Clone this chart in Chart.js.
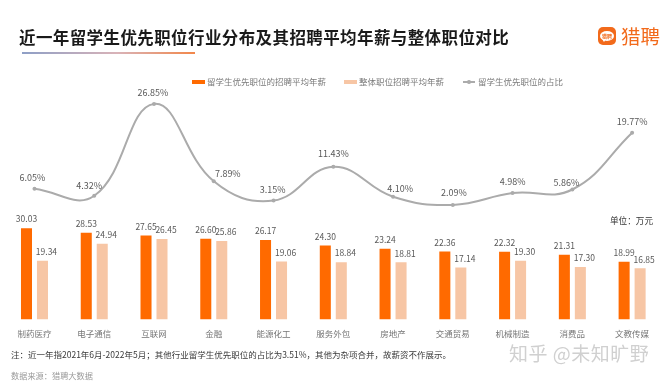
<!DOCTYPE html>
<html>
<head>
<meta charset="utf-8">
<script src="https://cdn.jsdelivr.net/npm/chart.js@4.4.1/dist/chart.umd.min.js"></script>
<style>
html,body{margin:0;padding:0;background:#fff;}
body{width:670px;height:392px;position:relative;overflow:hidden;font-family:"Noto Sans CJK SC","Noto Sans",sans-serif;}
#c{position:absolute;left:0;top:0;}
.abs{position:absolute;white-space:nowrap;}
.title{left:19px;top:27px;font-size:16.5px;font-weight:bold;color:#1a1a1a;line-height:20px;letter-spacing:0.4px;}
.uline{left:22px;top:52px;width:173px;height:2px;background:linear-gradient(to right,#8e9fc6,#d9b3b8 55%,#f2874a);}
.logo-icon{left:598px;top:27px;width:18px;height:18px;border-radius:5px;background:#f26a1b;}
.logo-icon .bub{position:absolute;left:2px;top:3.5px;width:14px;height:10px;border-radius:50%;background:#fff;color:#f26a1b;font-size:5px;line-height:10px;text-align:center;font-weight:bold;}
.logo-icon .tail{position:absolute;left:4px;top:12px;width:0;height:0;border-left:2px solid transparent;border-right:2px solid transparent;border-top:3px solid #fff;}
.logo-txt{left:621px;top:24px;font-size:19.5px;line-height:24px;color:#f26a1b;}
.leg{top:76px;font-size:8.5px;line-height:11px;color:#7a7a7a;}
.sw{position:absolute;top:79.5px;height:4.5px;width:13px;}
.unit{right:17px;top:214px;font-size:8.6px;line-height:12px;color:#333;}
.note{left:11px;top:348px;font-size:8.5px;line-height:12px;color:#3a3a3a;}
.src{left:11px;top:369px;font-size:8.2px;line-height:12px;color:#9a9a9a;}
.wm{left:509px;top:341px;font-size:19px;line-height:24px;color:#d0d0d0;letter-spacing:0.5px;}
</style>
</head>
<body>
<canvas id="c" width="670" height="392"></canvas>
<div class="abs title">近一年留学生优先职位行业分布及其招聘平均年薪与整体职位对比</div>
<div class="abs uline"></div>
<div class="abs logo-icon"><div class="bub">猎聘</div><div class="tail"></div></div>
<div class="abs logo-txt">猎聘</div>

<div class="sw" style="left:192px;background:#ff6a00;"></div>
<div class="abs leg" style="left:207px;">留学生优先职位的招聘平均年薪</div>
<div class="sw" style="left:344px;background:#f7c6a5;"></div>
<div class="abs leg" style="left:359px;">整体职位招聘平均年薪</div>
<div class="abs" style="left:463px;top:81px;width:12px;height:1.5px;background:#ababab;"></div>
<div class="abs" style="left:467px;top:80px;width:3.5px;height:3.5px;border-radius:50%;background:#ababab;"></div>
<div class="abs leg" style="left:478px;">留学生优先职位的占比</div>

<div class="abs unit">单位：万元</div>
<div class="abs note">注：近一年指2021年6月-2022年5月；其他行业留学生优先职位的占比为3.51%，其他为杂项合并，故薪资不作展示。</div>
<div class="abs src">数据来源：猎聘大数据</div>
<div class="abs wm">知乎 @未知旷野</div>

<script>
const categories = ['制药医疗','电子通信','互联网','金融','能源化工','服务外包','房地产','交通贸易','机械制造','消费品','文教传媒'];
const studentSalary = [30.03,28.53,27.65,26.60,26.17,24.30,23.24,22.36,22.32,21.31,18.99];
const overallSalary = [19.34,24.94,26.45,25.86,19.06,18.84,18.81,17.14,19.30,17.30,16.85];
const studentShare = [6.05,4.32,26.85,7.89,3.15,11.43,4.10,2.09,4.98,5.86,19.77];

const FONT = '"Noto Sans CJK SC","Noto Sans",sans-serif';

const valueLabels = {
  id: 'valueLabels',
  afterDatasetsDraw(chart, args, opts) {
    const ctx = chart.ctx;
    const nudge = opts.lineNudge || [];
    ctx.save();
    ctx.textAlign = 'center';
    ctx.textBaseline = 'middle';
    ctx.fillStyle = '#595959';
    chart.data.datasets.forEach((ds, i) => {
      const meta = chart.getDatasetMeta(i);
      meta.data.forEach((el, j) => {
        const v = ds.data[j];
        if (ds.type === 'line') {
          const n = nudge[j] || [0, -11];
          ctx.font = '9px ' + FONT;
          ctx.fillText(v.toFixed(2) + '%', el.x + n[0], el.y + n[1]);
        } else {
          ctx.font = '8.5px ' + FONT;
          ctx.fillText(v.toFixed(2), el.x + (i === 2 ? 4 : 0), el.y - 9);
        }
      });
    });
    ctx.restore();
  }
};

new Chart(document.getElementById('c'), {
  data: {
    labels: categories,
    datasets: [
      {
        type: 'line', label: '留学生优先职位的占比', data: studentShare, yAxisID: 'y1', order: 0,
        borderColor: '#ababab', backgroundColor: '#ababab', borderWidth: 2,
        pointRadius: 2, pointBackgroundColor: '#ababab', pointBorderWidth: 0, tension: 0.42
      },
      {
        type: 'bar', label: '留学生优先职位的招聘平均年薪', data: studentSalary, yAxisID: 'y', order: 1,
        backgroundColor: '#ff6a00', barPercentage: 0.69, categoryPercentage: 0.535
      },
      {
        type: 'bar', label: '整体职位招聘平均年薪', data: overallSalary, yAxisID: 'y', order: 1,
        backgroundColor: '#f7c6a5', barPercentage: 0.69, categoryPercentage: 0.535
      }
    ]
  },
  options: {
    responsive: false,
    animation: false,
    devicePixelRatio: 1,
    layout: { padding: { left: 4.6, right: 8, top: 100, bottom: 52.5 } },
    plugins: {
      legend: { display: false },
      tooltip: { enabled: false },
      valueLabels: {
        lineNudge: [[-2,-11],[-5,-10],[-1,-11],[14,-8],[-1,-11],[0,-13],[7,-8],[1,-12],[0,-12],[-6,-7],[0,-11]]
      }
    },
    scales: {
      x: {
        grid: { display: false, drawTicks: false },
        border: { display: false },
        ticks: { color: '#767676', font: { size: 8.5, family: FONT }, padding: 9, autoSkip: false, maxRotation: 0 },
        afterFit(s) { s.height = 20; }
      },
      y: { display: false, min: 0, max: 72.2 },
      y1: { display: false, min: -26, max: 27.8, position: 'right' }
    }
  },
  plugins: [valueLabels]
});
</script>
</body>
</html>
